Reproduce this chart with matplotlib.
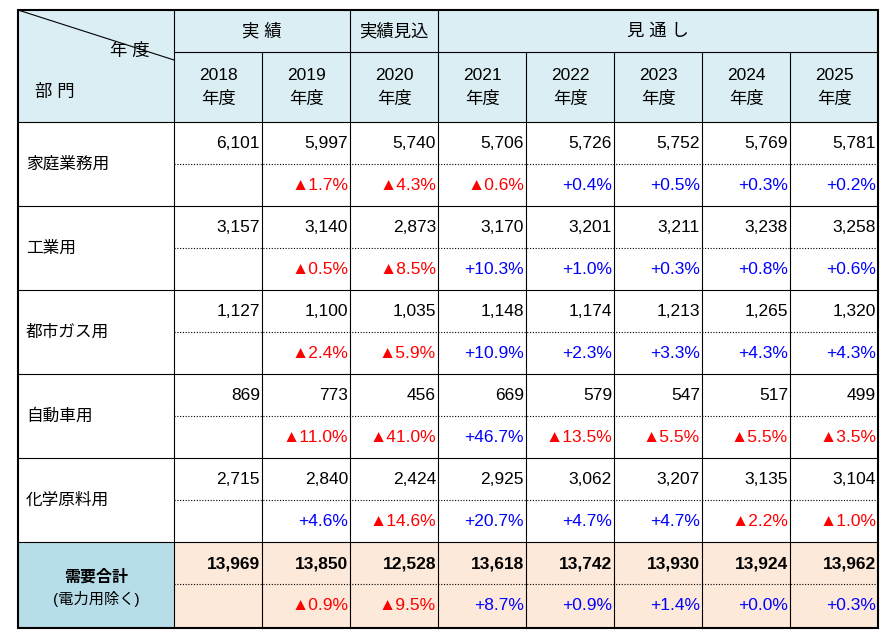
import matplotlib
matplotlib.use("Agg")
import matplotlib.pyplot as plt
from matplotlib.patches import Rectangle

plt.rcParams["font.family"] = ["Liberation Sans", "Noto Sans CJK JP", "DejaVu Sans"]

years = ["2018", "2019", "2020", "2021", "2022", "2023", "2024", "2025"]
sectors = ["家庭業務用", "工業用", "都市ガス用", "自動車用", "化学原料用"]
values = [
    [6101, 5997, 5740, 5706, 5726, 5752, 5769, 5781],
    [3157, 3140, 2873, 3170, 3201, 3211, 3238, 3258],
    [1127, 1100, 1035, 1148, 1174, 1213, 1265, 1320],
    [869, 773, 456, 669, 579, 547, 517, 499],
    [2715, 2840, 2424, 2925, 3062, 3207, 3135, 3104],
]
changes = [
    [None, -1.7, -4.3, -0.6, 0.4, 0.5, 0.3, 0.2],
    [None, -0.5, -8.5, 10.3, 1.0, 0.3, 0.8, 0.6],
    [None, -2.4, -5.9, 10.9, 2.3, 3.3, 4.3, 4.3],
    [None, -11.0, -41.0, 46.7, -13.5, -5.5, -5.5, -3.5],
    [None, 4.6, -14.6, 20.7, 4.7, 4.7, -2.2, -1.0],
]
total_values = [13969, 13850, 12528, 13618, 13742, 13930, 13924, 13962]
total_changes = [None, -0.9, -9.5, 8.7, 0.9, 1.4, 0.0, 0.3]

W, H = 896, 640
fig = plt.figure(figsize=(W / 100, H / 100), dpi=100)
ax = fig.add_axes([0, 0, 1, 1])
ax.set_xlim(0, W)
ax.set_ylim(H, 0)
ax.axis("off")

L, R, T = 18, 878, 10
xs = [L, 174] + [174 + 88 * (i + 1) for i in range(8)]
xs[-1] = R
h1, h2 = 52, 122
row_h = 84
rows = [h2 + row_h * i for i in range(6)]
B = 628

hdr = "#daeef3"
ax.add_patch(Rectangle((L, T), R - L, h2 - T, color=hdr, lw=0))
ax.add_patch(Rectangle((L, rows[5]), xs[1] - L, B - rows[5], color="#b7dde8", lw=0))
ax.add_patch(Rectangle((xs[1], rows[5]), R - xs[1], B - rows[5], color="#fde9d9", lw=0))

k = "black"
ax.plot([xs[1], R], [h1, h1], color=k, lw=0.8)
for y in [h2] + rows[1:6]:
    ax.plot([L, R], [y, y], color=k, lw=0.8)
for y in rows[:6]:
    ax.plot([xs[1], R], [y + 42, y + 42], color=k, lw=0.8, ls=(0, (1, 1.5)))
for i, x in enumerate(xs[1:-1], start=1):
    if i in (2, 5, 6, 7, 8):
        ax.plot([x, x], [h1, B], color=k, lw=0.8)
    else:
        ax.plot([x, x], [T, B], color=k, lw=0.8)
ax.add_patch(Rectangle((L, T), R - L, B - T, fill=False, ec=k, lw=1.5))
ax.plot([L, xs[1]], [T, h1 + 8], color=k, lw=0.8)

fs = 12.5
ax.text(130, 51, "年 度", fontsize=fs, ha="center", va="center")
ax.text(55, 92, "部 門", fontsize=fs, ha="center", va="center")
ax.text((xs[1] + xs[3]) / 2, 31, "実 績", fontsize=fs, ha="center", va="center")
ax.text((xs[3] + xs[4]) / 2, 31, "実績見込", fontsize=fs, ha="center", va="center")
ax.text((xs[4] + R) / 2, 31, "見 通 し", fontsize=fs, ha="center", va="center")
for i, yr in enumerate(years):
    cx = (xs[i + 1] + xs[i + 2]) / 2
    ax.text(cx, 76, yr, fontsize=fs, ha="center", va="center")
    ax.text(cx, 99, "年度", fontsize=fs, ha="center", va="center")

def pct(v):
    if v is None:
        return None, None
    if v < 0:
        return "▲%.1f%%" % (-v), "red"
    return "+%.1f%%" % v, "blue"

def fill_row(y0, vals, chg, bold=False):
    for i in range(8):
        xr = xs[i + 2] - 2
        ax.text(xr, y0 + 22, f"{vals[i]:,}", fontsize=fs, ha="right", va="center",
                fontweight="bold" if bold else "normal")
        s, c = pct(chg[i])
        if s:
            ax.text(xr, y0 + 64, s, fontsize=fs, ha="right", va="center", color=c)

for j, name in enumerate(sectors):
    y0 = rows[j]
    ax.text(26, y0 + 42, name, fontsize=12, ha="left", va="center")
    fill_row(y0, values[j], changes[j])

y0 = rows[5]
ax.text(96, y0 + 35, "需要合計", fontsize=11.5, ha="center", va="center", fontweight="bold")
ax.text(96, y0 + 57, "(電力用除く)", fontsize=11, ha="center", va="center")
fill_row(y0, total_values, total_changes, bold=True)

fig.savefig("out.png", dpi=100)
